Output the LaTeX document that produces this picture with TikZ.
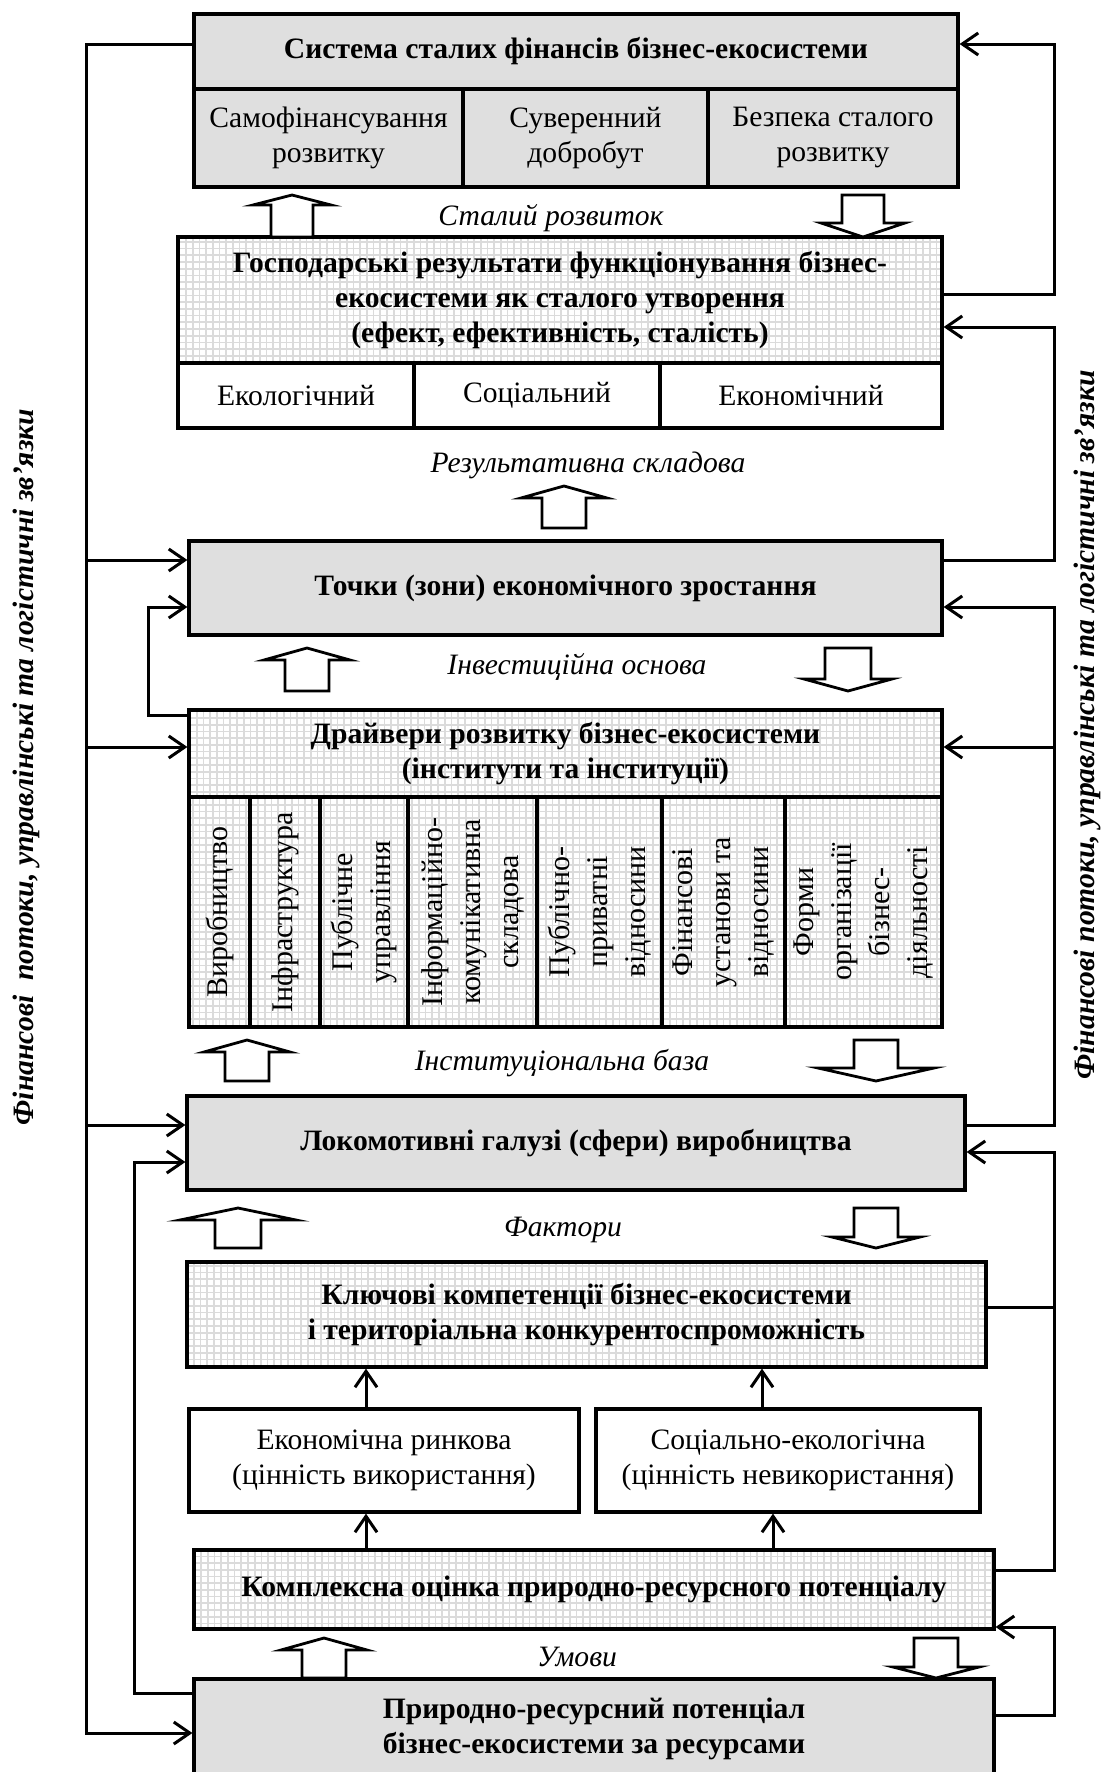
\documentclass[tikz,border=0pt]{standalone}
\usepackage{fontspec}
\setmainfont{Liberation Serif}
\usetikzlibrary{arrows.meta}

\newcommand{\mainsize}{\fontsize{14.8}{17.5}\selectfont}

\tikzset{
  cell/.style n args={4}{minimum width={(#3-#1)*0.5pt},minimum height={(#4-#2)*0.5pt},
    at={({(#1+#3)/2},{(#2+#4)/2})}},
  box/.style={draw,line width=1.6pt,inner sep=0pt,align=center,font=\mainsize},
  boldbox/.style={box,font=\mainsize\bfseries},
  grayfill/.style={fill=gray!25},
  gridfill/.style={fill=white,path picture={\draw[gray!28,line width=0.85pt] (path picture bounding box.south west) grid[step=3.35pt] (path picture bounding box.north east);}},
  link/.style={line width=1.5pt},
  flow/.style={link,-{Straight Barb[length=8pt,width=11pt]}},
  stage/.style={font=\mainsize\itshape},
  side/.style={rotate=90,font=\mainsize\bfseries\itshape},
  column/.style={rotate=90,align=center,font=\fontsize{15}{19}\selectfont},
  hollow/.style={line width=1.4pt,fill=white},
}

% hollow block arrows: centre x, shaft half width, head half width, three y levels
\newcommand{\hollowup}[6]{%
  \draw[hollow] (#1-#2,#6) -- (#1-#2,#5) -- (#1-#3,#5) -- (#1,#4) -- (#1+#3,#5) -- (#1+#2,#5) -- (#1+#2,#6) -- cycle;}
\newcommand{\hollowdown}[6]{%
  \draw[hollow] (#1-#2,#4) -- (#1-#2,#5) -- (#1-#3,#5) -- (#1,#6) -- (#1+#3,#5) -- (#1+#2,#5) -- (#1+#2,#4) -- cycle;}

\begin{document}
\begin{tikzpicture}[x=0.5pt,y=-0.5pt]
\useasboundingbox (0,0) rectangle (1104,1772);

% top block
\node[boldbox,grayfill,cell={194}{14}{958}{89}] (sys) {Система сталих фінансів бізнес-екосистеми};
\node[box,grayfill,cell={194}{89}{463}{187}] (sys1) {Самофінансування\\розвитку};
\node[box,grayfill,cell={463}{89}{708}{187}] (sys2) {Суверенний\\добробут};
\node[box,grayfill,cell={708}{89}{958}{187}] (sys3) {Безпека сталого\\розвитку};

% results
\node[boldbox,gridfill,cell={178}{237}{942}{363}] (gosp) {Господарські результати функціонування бізнес-\\екосистеми як сталого утворення\\(ефект, ефективність, сталість)};
\node[box,fill=white,cell={178}{363}{414}{428}] (gosp1) {Екологічний};
\node[box,fill=white,cell={414}{363}{660}{428}] (gosp2) {Соціальний};
\node[box,fill=white,cell={660}{363}{942}{428}] (gosp3) {Економічний};

\node[boldbox,grayfill,cell={189}{541}{942}{635}] (zones) {Точки (зони) економічного зростання};

% drivers
\node[boldbox,gridfill,cell={189}{710}{942}{797}] (drv) {Драйвери розвитку бізнес-екосистеми\\(інститути та інституції)};
\foreach \a/\b/\txt [count=\i] in {189/250/Виробництво, 250/320/Інфраструктура,
    320/408/{Публічне\\управління}, 408/537/{Інформаційно-\\комунікативна\\складова},
    537/662/{Публічно-\\приватні\\відносини}, 662/785/{Фінансові\\установи та\\відносини},
    785/942/{Форми\\організації\\бізнес-\\діяльності}}
{
  \node[box,gridfill,cell={\a}{797}{\b}{1027}] (col\i) {};
  \node[column] (coltext\i) at (col\i) {\txt};
}

\node[boldbox,grayfill,cell={187}{1096}{965}{1190}] (loco) {Локомотивні галузі (сфери) виробництва};
\node[boldbox,gridfill,cell={187}{1262}{986}{1367}] (comp) {Ключові компетенції бізнес-екосистеми\\і територіальна конкурентоспроможність};
\node[box,fill=white,cell={189}{1409}{579}{1512}] (market) {Економічна ринкова\\(цінність використання)};
\node[box,fill=white,cell={596}{1409}{980}{1512}] (nonmarket) {Соціально-екологічна\\(цінність невикористання)};
\node[boldbox,gridfill,cell={194}{1550}{994}{1629}] (assess) {Комплексна оцінка природно-ресурсного потенціалу};
\node[boldbox,grayfill,cell={194}{1679}{994}{1778}] (potential) {Природно-ресурсний потенціал\\бізнес-екосистеми за ресурсами};

% stage labels
\node[stage] (st1) at (551,218) {Сталий розвиток};
\node[stage] (st2) at (588,465) {Результативна складова};
\node[stage] (st3) at (577,667) {Інвестиційна основа};
\node[stage] (st4) at (562,1063) {Інституціональна база};
\node[stage] (st5) at (563,1230) {Фактори};
\node[stage] (st6) at (577,1657) {Умови};

% hollow arrows
\hollowup{292}{21}{39}{195}{205}{237}
\hollowup{564}{22}{43}{486}{498}{528}
\hollowup{307}{22}{43}{648}{660}{691}
\hollowup{247}{22}{43}{1040}{1052}{1081}
\hollowup{238}{23}{58}{1208}{1220}{1248}
\hollowup{324}{22}{43}{1638}{1650}{1678}
\hollowdown{863}{21}{42}{195}{223}{237}
\hollowdown{848}{23}{44}{648}{679}{691}
\hollowdown{876}{22}{58}{1040}{1068}{1081}
\hollowdown{876}{22}{44}{1208}{1237}{1248}
\hollowdown{936}{22}{43}{1638}{1667}{1678}

% side lines
\coordinate (R) at (1054,0);
\coordinate (L) at (86,0);
\coordinate (Ld) at (148,0);
\coordinate (Lp) at (134,0);

\draw[flow] (gosp.east |- 0,294) -| (R |- 0,44) -- (sys.east |- 0,44);
\draw[flow] (zones.east |- 0,560) -| (R |- 0,327) -- (gosp.east |- 0,327);
\draw[flow] (loco.east |- 0,1125) -| (R |- 0,607) -- (zones.east |- 0,607);
\draw[flow] (R |- 0,747) -- (drv.east |- 0,747);
\draw[flow] (assess.east |- 0,1570) -| (R |- 0,1152) -- (loco.east |- 0,1152);
\draw[link] (comp.east |- 0,1307) -- (R |- 0,1307);
\draw[flow] (potential.east |- 0,1715) -| (R |- 0,1627) -- (assess.east |- 0,1627);

\draw[flow] (sys.west |- 0,44) -| (L |- 0,1733) -- (potential.west |- 0,1733);
\foreach \n/\y in {zones/560, drv/747, loco/1125}
  \draw[flow] (L |- 0,\y) -- (\n.west |- 0,\y);
\draw[flow] (drv.west |- 0,715) -| (Ld |- 0,607) -- (zones.west |- 0,607);
\draw[flow] (potential.west |- 0,1693) -| (Lp |- 0,1162) -- (loco.west |- 0,1162);

\draw[flow] (assess.north -| 366,0) -- (market.south -| 366,0);
\draw[flow] (market.north -| 366,0) -- (comp.south -| 366,0);
\draw[flow] (assess.north -| 773,0) -- (nonmarket.south -| 773,0);
\draw[flow] (nonmarket.north -| 762,0) -- (comp.south -| 762,0);

\node[side] (sideL) at (26,767) {Фінансові\ \ потоки, управлінські та логістичні зв’язки};
\node[side] (sideR) at (1087,725) {Фінансові потоки, управлінські та логістичні зв’язки};
\end{tikzpicture}
\end{document}
